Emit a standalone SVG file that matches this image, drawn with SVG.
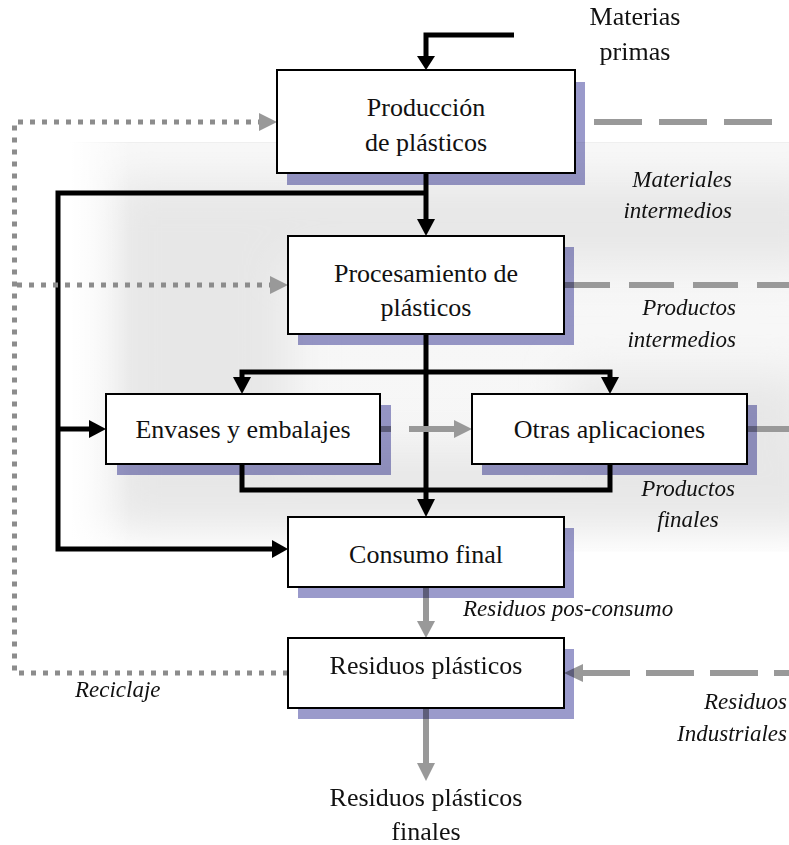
<svg xmlns="http://www.w3.org/2000/svg" width="789" height="845" viewBox="0 0 789 845">
<style>
.box{fill:#fff;stroke:#000;stroke-width:2}
.shadow{fill:#9a9acb;mix-blend-mode:multiply}
.t{font-family:"Liberation Serif","Times New Roman",serif;font-size:26px;fill:#111;text-anchor:middle}
.it{font-family:"Liberation Serif","Times New Roman",serif;font-size:23px;font-style:italic;fill:#111}
.blk{fill:none;stroke:#000;stroke-width:5}
.ah{fill:#000}
.gah{fill:#999}
.dot{fill:none;stroke:#8c8c8c;stroke-width:5;stroke-dasharray:5 7}
.dash{fill:none;stroke:#999;stroke-width:6}
.gl{fill:none;stroke:#999;stroke-width:6}
</style>
<defs>
<filter id="blur" x="-20%" y="-50%" width="140%" height="200%"><feGaussianBlur stdDeviation="22"/></filter>
<clipPath id="bgclip"><rect x="70" y="142" width="719" height="410"/></clipPath>
<linearGradient id="leftfade" x1="0" y1="0" x2="1" y2="0">
<stop offset="0" stop-color="#fff" stop-opacity="1"/>
<stop offset="1" stop-color="#fff" stop-opacity="0"/>
</linearGradient>
<linearGradient id="basev" x1="0" y1="0" x2="0" y2="1">
<stop offset="0" stop-color="#f8f8f8"/>
<stop offset="0.9" stop-color="#f6f6f6"/>
<stop offset="1" stop-color="#ffffff"/>
</linearGradient>
</defs>
<rect width="789" height="845" fill="#fff"/>
<g id="background" clip-path="url(#bgclip)">
<rect x="70" y="142" width="719" height="410" fill="url(#basev)"/>
<g filter="url(#blur)" fill="#e7e7e7">
<rect x="110" y="180" width="720" height="85"/>
<rect x="110" y="450" width="720" height="75"/>
<rect x="110" y="265" width="180" height="190"/>
<rect x="570" y="375" width="240" height="80"/>
</g>
<line x1="70" y1="142.5" x2="789" y2="142.5" stroke="#efefef" stroke-width="1"/>
<rect x="70" y="142" width="60" height="410" fill="url(#leftfade)"/>
</g>
<g id="connectors">
<path class="blk" d="M514,35 H426 V58"/>
<polygon class="ah" points="417,56 435,56 426,70"/>
<path class="blk" d="M426,173 V222"/>
<polygon class="ah" points="417,219 435,219 426,236"/>
<path class="blk" d="M426,193 H58 V549 H274"/>
<polygon class="ah" points="272,540 272,558 288,549"/>
<path class="blk" d="M58,429 H92"/>
<polygon class="ah" points="89,420 89,438 106,429"/>
<path class="blk" d="M426,334 V502"/>
<polygon class="ah" points="417,499 435,499 426,517"/>
<path class="blk" d="M242,381 V372 H610 V381"/>
<polygon class="ah" points="233,377 251,377 242,394"/>
<polygon class="ah" points="601,377 619,377 610,394"/>
<path class="blk" d="M242,464 V490 H610 V464"/>
<path class="dot" d="M288,673 H14.5 V122 H262"/>
<polygon class="gah" points="259,113 259,131 277,122"/>
<path class="dot" d="M17,285 H272"/>
<polygon class="gah" points="270,276 270,294 288,285"/>
<path class="dash" d="M594,122 H775" stroke-dasharray="48 17"/>
<path class="dash" d="M565,285 H789" stroke-dasharray="45 19"/>
<path class="gl" d="M380,429 H391 M409,429 H457"/>
<polygon class="gah" points="454,420 454,438 472,429"/>
<path class="gl" d="M747,429 H789"/>
<path class="gl" d="M426,587 V623"/>
<polygon class="gah" points="417,621 435,621 426,638"/>
<path class="gl" d="M426,708 V765"/>
<polygon class="gah" points="417,763 435,763 426,781"/>
<path class="dash" d="M582,673 H789" stroke-dasharray="48 16"/>
<polygon class="gah" points="583,664 583,682 564,673"/>
</g>
<g id="produccion">
<rect class="shadow" x="287" y="82" width="298" height="103"/>
<rect class="box" x="277" y="70" width="298" height="103"/>
<text class="t" x="426" y="116">Producción</text>
<text class="t" x="426" y="151">de plásticos</text>
</g>
<g id="procesamiento">
<rect class="shadow" x="298" y="247" width="276" height="98"/>
<rect class="box" x="288" y="236" width="276" height="98"/>
<text class="t" x="426" y="282">Procesamiento de</text>
<text class="t" x="426" y="316">plásticos</text>
</g>
<g id="envases">
<rect class="shadow" x="117" y="405" width="274" height="70"/>
<rect class="box" x="106" y="394" width="274" height="70"/>
<text class="t" x="243" y="438">Envases y embalajes</text>
</g>
<g id="otras">
<rect class="shadow" x="482" y="405" width="275" height="70"/>
<rect class="box" x="472" y="394" width="275" height="70"/>
<text class="t" x="609.5" y="438">Otras aplicaciones</text>
</g>
<g id="consumo">
<rect class="shadow" x="298" y="528" width="276" height="70"/>
<rect class="box" x="288" y="517" width="276" height="70"/>
<text class="t" x="426" y="563">Consumo final</text>
</g>
<g id="residuos">
<rect class="shadow" x="298" y="649" width="276" height="70"/>
<rect class="box" x="288" y="638" width="276" height="70"/>
<text class="t" x="426" y="674">Residuos plásticos</text>
</g>
<g id="labels">
<text class="t" x="635" y="25">Materias</text>
<text class="t" x="635" y="60">primas</text>
<text class="it" x="732" y="187" text-anchor="end">Materiales</text>
<text class="it" x="732" y="218" text-anchor="end">intermedios</text>
<text class="it" x="736" y="315" text-anchor="end">Productos</text>
<text class="it" x="736" y="347" text-anchor="end">intermedios</text>
<text class="it" x="688" y="496" text-anchor="middle">Productos</text>
<text class="it" x="688" y="527" text-anchor="middle">finales</text>
<text class="it" x="463" y="616">Residuos pos-consumo</text>
<text class="it" x="75" y="697">Reciclaje</text>
<text class="it" x="787" y="709" text-anchor="end">Residuos</text>
<text class="it" x="787" y="741" text-anchor="end">Industriales</text>
<text class="t" x="426" y="806">Residuos plásticos</text>
<text class="t" x="426" y="840">finales</text>
</g>
</svg>
